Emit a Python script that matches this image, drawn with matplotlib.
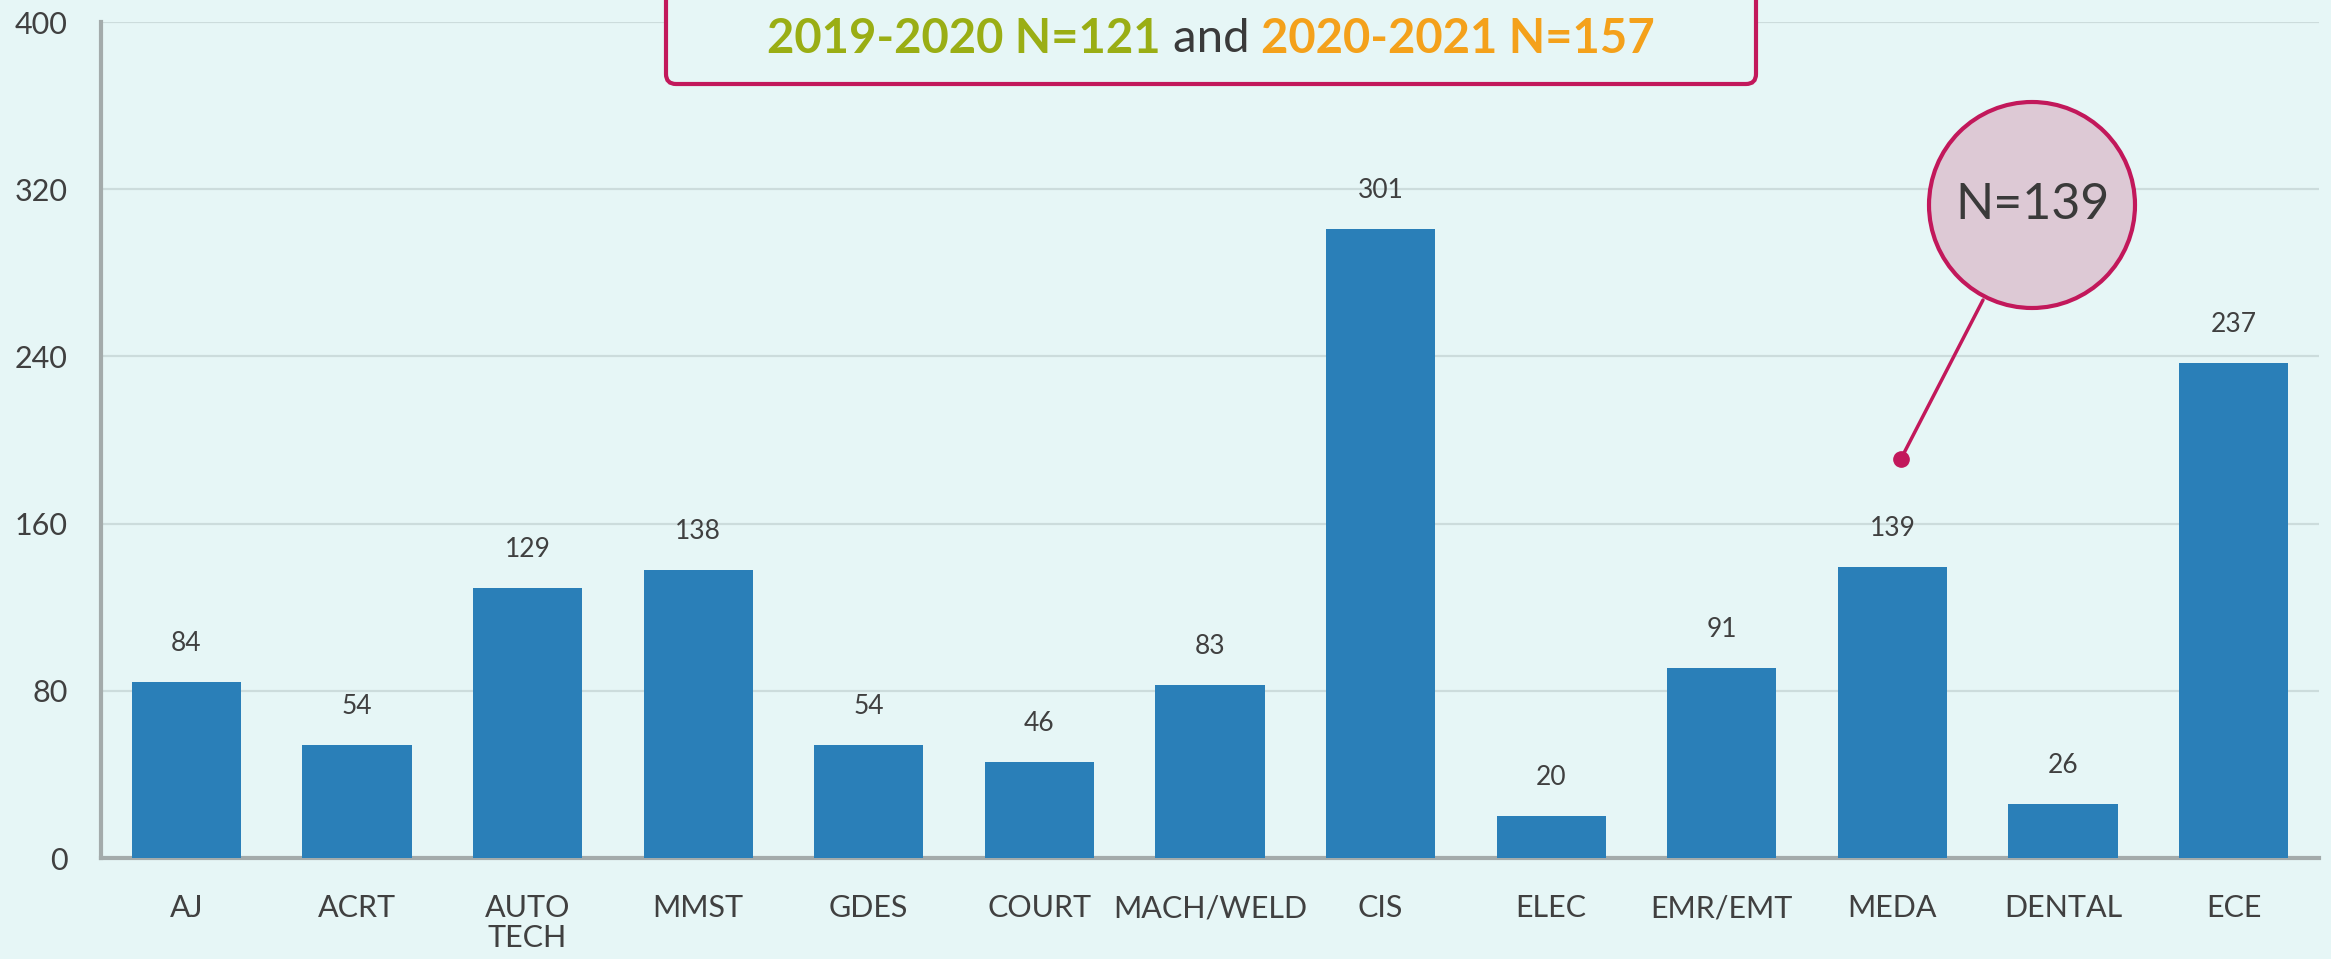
import matplotlib
matplotlib.use("Agg")
import matplotlib.pyplot as plt
from matplotlib.patches import Circle, FancyBboxPatch
import numpy as np

# data
programs = ["AJ", "ACRT", "AUTO\nTECH", "MMST", "GDES", "COURT", "MACH/WELD",
            "CIS", "ELEC", "EMR/EMT", "MEDA", "DENTAL", "ECE"]
students = [84, 54, 129, 138, 54, 46, 83, 301, 20, 91, 139, 26, 237]
y_ticks = [0, 80, 160, 240, 320, 400]

title_parts = [("2019-2020 N=121", "#9AAE14", "bold"),
               (" and ", "#3A3A3A", "normal"),
               ("2020-2021 N=157", "#F4A11B", "bold")]
callout_text = "N=139"

bg = "#E6F6F6"
bar_color = "#2A7FB8"
crimson = "#C2185B"
text_color = "#404040"

plt.rcParams['font.family'] = ['Lato', 'DejaVu Sans']

fig = plt.figure(figsize=(23.31, 9.59), dpi=100, facecolor=bg)
ax = fig.add_axes([101 / 2331, 101 / 959, 2218 / 2331, 836 / 959])
ax.set_facecolor(bg)

x = np.arange(len(programs))
bars = ax.bar(x, students, width=0.64, color=bar_color, zorder=3)

for xi, v in zip(x, students):
    ax.annotate(str(v), (xi, v), xytext=(0, 26), textcoords="offset pixels",
                ha="center", va="bottom", fontsize=19, color=text_color)

ax.set_xlim(-0.5, len(programs) - 0.5)
ax.set_ylim(0, 400)
ax.set_yticks(y_ticks)
ax.set_xticks(x)
ax.set_xticklabels(programs, fontsize=22, color=text_color, linespacing=1.1)
ax.set_yticklabels([str(t) for t in y_ticks], fontsize=22, color=text_color)
ax.tick_params(axis="both", length=0)
ax.tick_params(axis="x", pad=26)
ax.tick_params(axis="y", pad=24)
ax.grid(axis="y", color="#CCDCDC", linewidth=1.6, zorder=0)
ax.set_axisbelow(True)
for s in ["top", "right"]:
    ax.spines[s].set_visible(False)
for s in ["left", "bottom"]:
    ax.spines[s].set_color("#A3ABAB")
    ax.spines[s].set_linewidth(3)

# title box
box = FancyBboxPatch((666 / 100, (959 - 84) / 100), 1090 / 100, 1.5,
                     boxstyle="round,pad=0,rounding_size=0.1",
                     transform=fig.dpi_scale_trans, facecolor=bg,
                     edgecolor=crimson, linewidth=3, zorder=5)
fig.patches.append(box)

renderer = fig.canvas.get_renderer()
texts = []
for s, c, w in title_parts:
    t = fig.text(0, 0, s, color=c, fontsize=34, fontweight=w,
                 va="center", ha="left", transform=fig.dpi_scale_trans, zorder=6)
    texts.append(t)
widths = [t.get_window_extent(renderer).width / 100 for t in texts]
cx = (666 + 1756) / 2 / 100
cur = cx - sum(widths) / 2
ty = (959 - 39) / 100
for t, w in zip(texts, widths):
    t.set_position((cur, ty))
    cur += w

# callout
cc = (2032 / 100, (959 - 205) / 100)
r = 1.03
circ = Circle(cc, r, transform=fig.dpi_scale_trans, facecolor="#DDC9D5",
              edgecolor=crimson, linewidth=3, zorder=6)
fig.patches.append(circ)
fig.text(cc[0], cc[1], callout_text, transform=fig.dpi_scale_trans,
         ha="center", va="center", fontsize=36, color="#3A3A3A", zorder=7)

dot = (10.05, 191)
ax.annotate("", xy=dot, xytext=(1983, 959 - 300), textcoords="figure pixels",
            arrowprops=dict(arrowstyle="-", color=crimson, lw=2.5,
                            shrinkA=0, shrinkB=0), zorder=6)
ax.plot([dot[0]], [dot[1]], "o", color=crimson, markersize=11, zorder=7)

fig.savefig("out.png", dpi=100, facecolor=bg)
